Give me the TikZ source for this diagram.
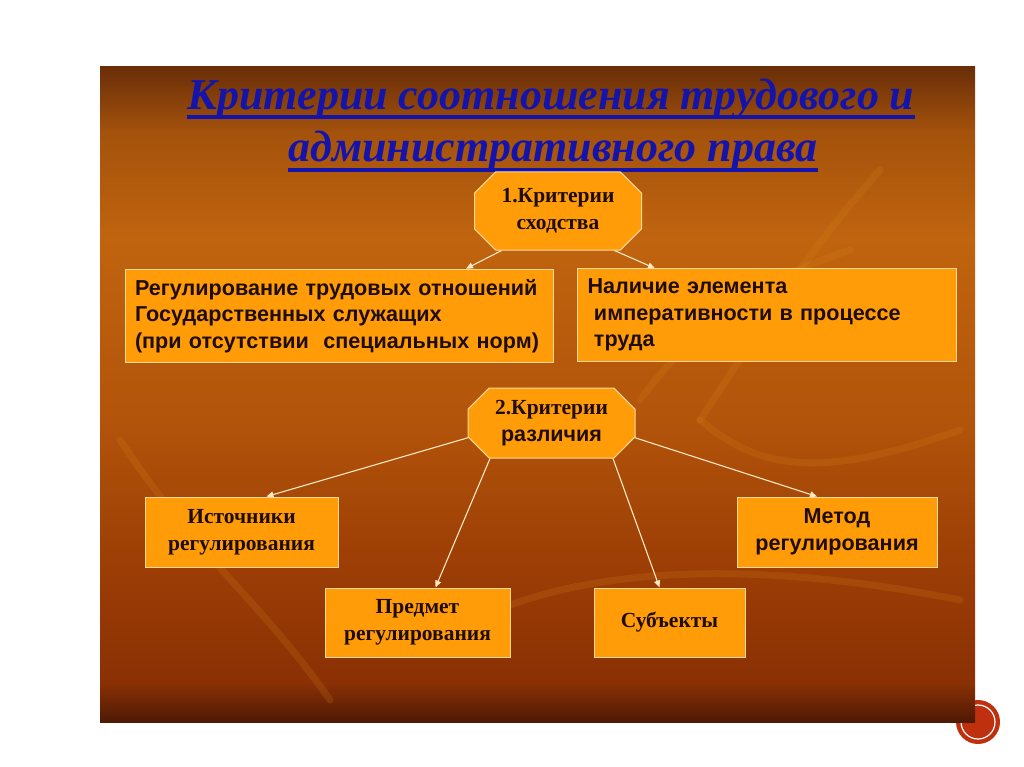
\documentclass[tikz,border=0pt]{standalone}
\usepackage{fontspec}
\setmainfont{Liberation Serif}
\setsansfont{Liberation Sans}
\usetikzlibrary{arrows.meta, shapes.misc, calc}
\definecolor{cbox}{HTML}{FF9C08}
\definecolor{cedge}{HTML}{F9D99A}
\definecolor{carrow}{HTML}{FCE9C4}
\definecolor{cink}{HTML}{1F0D04}
\definecolor{ctitle}{HTML}{1414AA}
\definecolor{cring}{HTML}{BF300E}
\definecolor{cbranch}{HTML}{D98A1E}
\definecolor{bgA}{HTML}{6A2E08}
\definecolor{bgB}{HTML}{A4520C}
\definecolor{bgC}{HTML}{C0640F}
\definecolor{bgD}{HTML}{B2540A}
\definecolor{bgE}{HTML}{9A3C05}
\definecolor{bgF}{HTML}{8A3004}
\definecolor{bgG}{HTML}{4E1A04}
\pgfdeclareverticalshading{slidebg}{100bp}{color(0bp)=(bgG); color(25bp)=(bgG); color(28bp)=(bgF); color(36bp)=(bgE); color(48bp)=(bgD); color(62bp)=(bgC); color(70bp)=(bgB); color(75bp)=(bgA); color(100bp)=(bgA)}
\tikzset{
  every picture/.style={line width=1pt},
  box/.style={draw=cedge, fill=cbox, text=cink, align=center, inner sep=4pt, minimum height=70pt},
  serifbox/.style={box, font=\rmfamily\bfseries\fontsize{21.5}{27}\selectfont},
  sansbox/.style={box, font=\sffamily\bfseries\fontsize{21.6}{27}\selectfont},
  arrow/.style={-{Triangle[length=7pt, width=6pt]}, draw=carrow, line width=1.1pt},
  title/.style={font=\rmfamily\bfseries\itshape\fontsize{44}{50}\selectfont, text=ctitle, inner sep=0pt, anchor=base},
  underline/.style={draw=ctitle, line width=3.5pt},
}

\begin{document}
\begin{tikzpicture}[x=1pt, y=-1pt,
  oct/.style={chamfered rectangle, chamfered rectangle xsep=18pt, draw=cedge, fill=cbox, text=cink, align=center, minimum width=167pt, inner sep=1pt, font=\rmfamily\bfseries\fontsize{21.5}{27}\selectfont},
  listbox/.style={box, align=left, inner sep=10pt, font=\sffamily\bfseries\fontsize{21.6}{26.5}\selectfont},
  branch/.style={draw=cbranch, opacity=0.18, line width=7pt, line cap=round}]
  \useasboundingbox (0,0) rectangle (1024,767);
  \fill[white] (0,0) rectangle (1024,767);
  % page badge
  \node[circle, fill=cring, minimum size=44pt, inner sep=0pt] (badge) at (978,722) {};
  \draw[white, line width=1.2pt] (badge.center) circle (17pt);
  % slide
  \shade[shading=slidebg] (100,67) rectangle (975,722);
  \draw[branch] (880,170) .. controls (800,260) and (760,330) .. (700,420);
  \draw[branch] (700,420) .. controls (760,470) and (820,480) .. (960,430);
  \draw[branch] (120,440) .. controls (200,560) and (260,600) .. (330,700);
  \draw[branch] (440,640) .. controls (560,560) and (760,560) .. (960,600);
  \draw[branch] (640,400) .. controls (700,320) and (760,280) .. (850,250);
  % title
  \node[title] (head1) at (551,110) {Критерии соотношения трудового и};
  \node[title] (head2) at (553,162) {административного права};
  \draw[underline] ([yshift=-7pt]head1.base west) -- ([yshift=-7pt]head1.base east);
  \draw[underline] ([yshift=-8pt]head2.base west) -- ([yshift=-8pt]head2.base east);
  % similarity
  \node[oct, minimum height=78pt] (sim) at (558,211) {1.Критерии\\сходства};
  \node[listbox, text width=408pt, minimum height=92pt] (regul) at (339,316)
    {Регулирование трудовых отношений\\Государственных служащих\\(при отсутствии\ \ специальных норм)};
  \node[listbox, text width=359pt, minimum height=90pt] (imper) at (767,315)
    {Наличие элемента\\\hspace*{0.3em}императивности в процессе\\\hspace*{0.3em}труда};
  \draw[arrow] (sim.215) -- ([xshift=127pt]regul.north);
  \draw[arrow] (sim.325) -- ([xshift=-112pt]imper.north);
  % difference
  \node[oct, minimum height=70pt] (diff) at (551.5,423) {2.Критерии\\{\sffamily различия}};
  \node[serifbox, minimum width=193pt] (source) at (241.5,532) {Источники\\регулирования};
  \node[sansbox, minimum width=200pt] (method) at (837,532) {Метод\\регулирования};
  \node[serifbox, minimum width=185pt, minimum height=69pt] (subject) at (417.5,622.5) {Предмет\\регулирования};
  \node[serifbox, minimum width=151pt, minimum height=69pt] (actors) at (669.5,622.5) {Субъекты};
  \draw[arrow] (diff.190) -- ([xshift=25pt]source.north);
  \draw[arrow] (diff.210) -- ([xshift=18pt]subject.north);
  \draw[arrow] (diff.330) -- ([xshift=-10pt]actors.north);
  \draw[arrow] (diff.350) -- ([xshift=-20pt]method.north);
\end{tikzpicture}
\end{document}
